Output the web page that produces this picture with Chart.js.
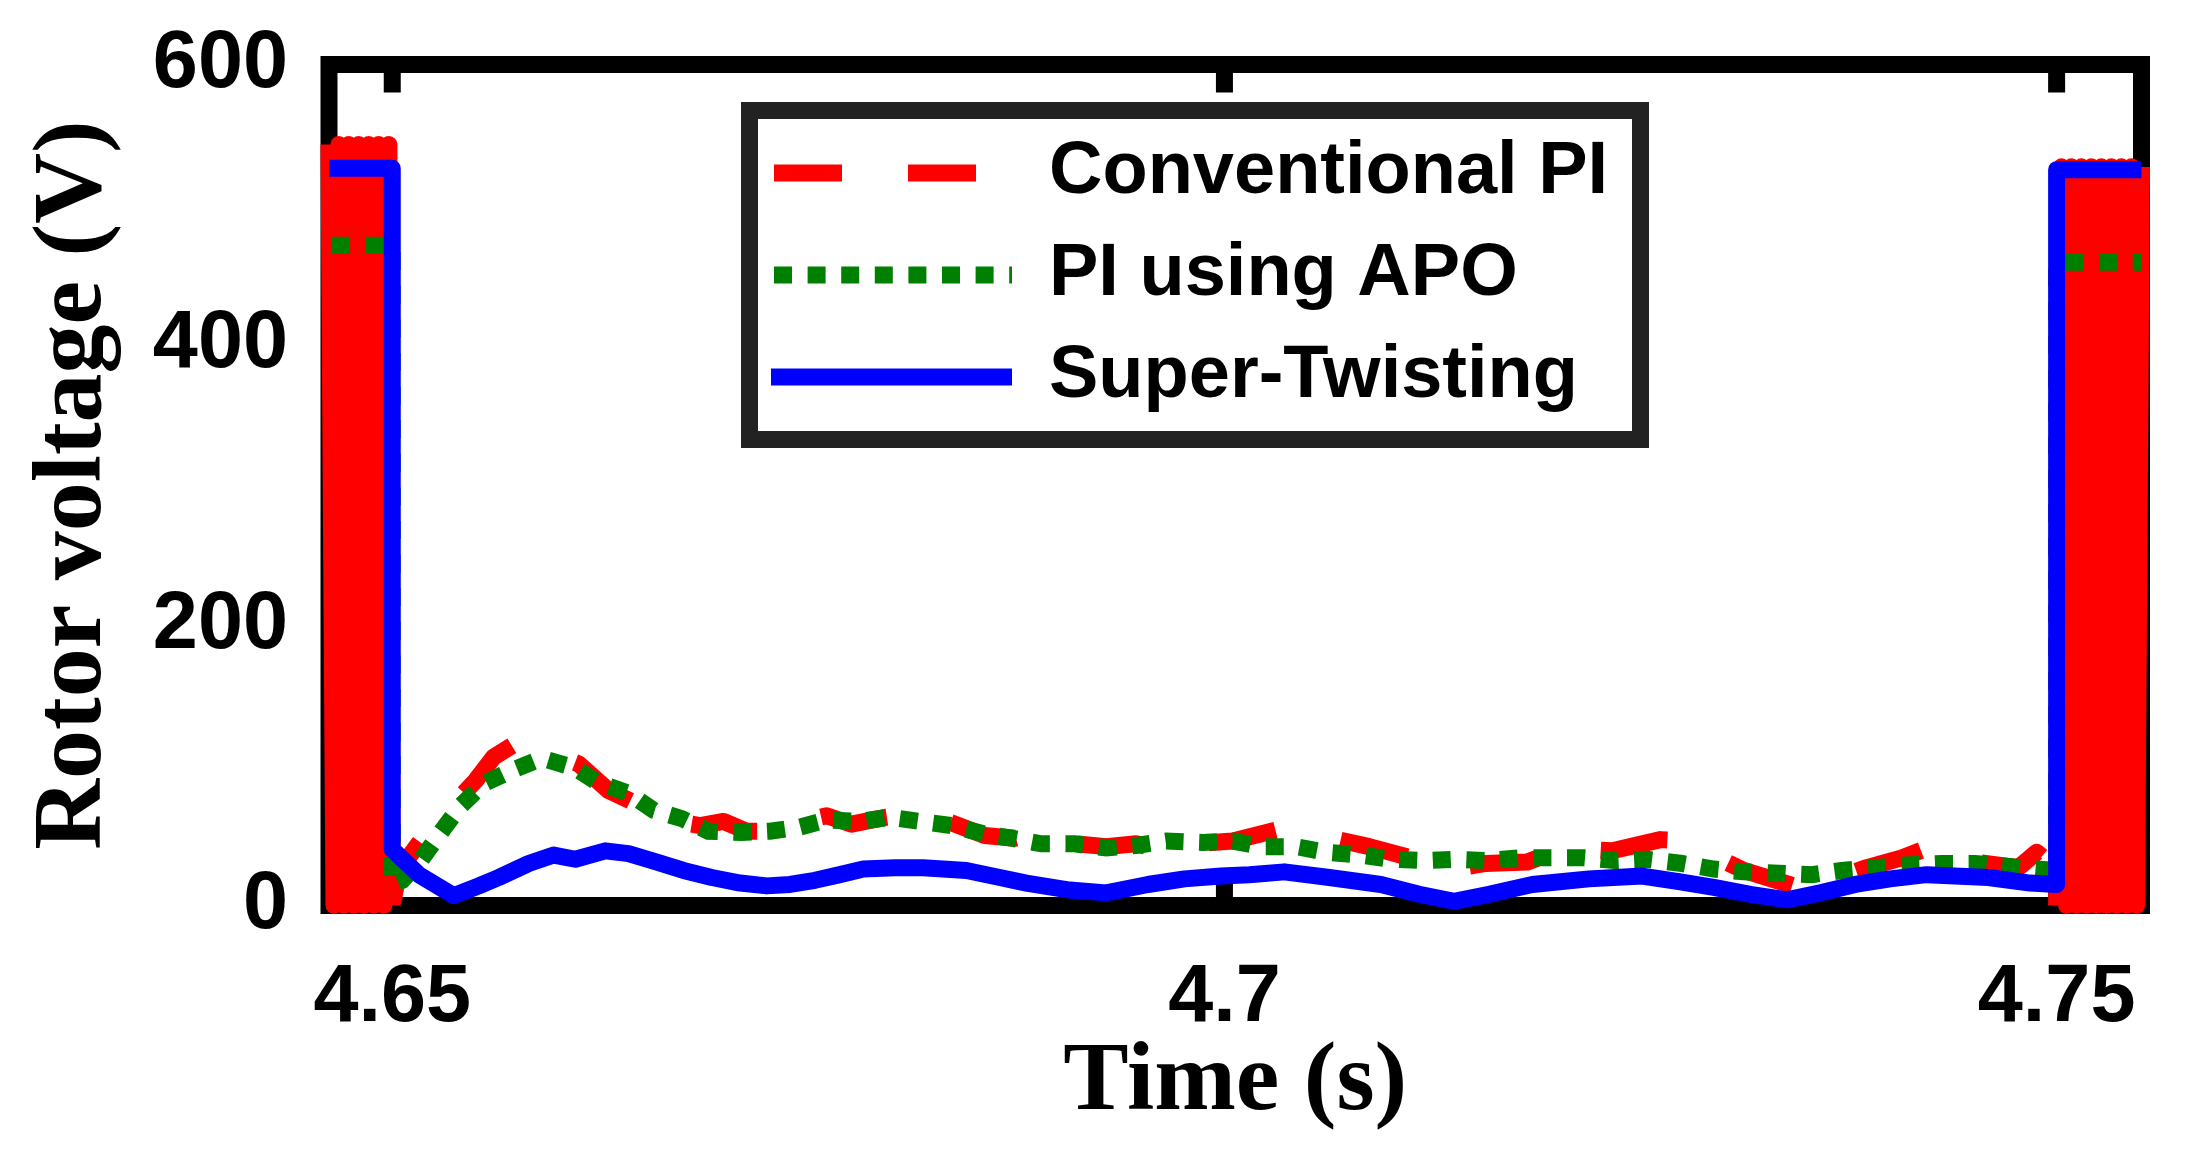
<!DOCTYPE html>
<html lang="en">
<head>
  <meta charset="UTF-8">
  <title>Rotor voltage</title>
  <style>
    html, body { margin: 0; padding: 0; background: #fff; }
    canvas { display: block; }
  </style>
  <script src="https://cdn.jsdelivr.net/npm/chart.js"></script>
</head>
<body>
  <canvas id="rotorChart" width="2191" height="1152"></canvas>

  <script>
    // Series names (legend order)
    const seriesNames = ['Conventional PI', 'PI using APO', 'Super-Twisting'];

    // Conventional PI: switching block, then the slow curve, then switching again
    const piTime = [
      4.6462, 4.6465, 4.6468, 4.6471, 4.6474, 4.6477, 4.6480, 4.6483, 4.6486, 4.6489, 4.6492, 4.6495, 4.6498, 4.6500,
      4.6504, 4.6517, 4.6535, 4.6550, 4.6561, 4.6572, 4.6588, 4.6612, 4.6630, 4.6655, 4.6670, 4.6685, 4.6699,
      4.6713, 4.6728, 4.6746, 4.6761, 4.6776, 4.6797, 4.6819, 4.6838, 4.6856, 4.6874, 4.6892, 4.6910, 4.6929,
      4.6947, 4.6969, 4.6983, 4.7005, 4.7032, 4.7057, 4.7087, 4.7109, 4.7131, 4.7157, 4.7182, 4.7204, 4.7233,
      4.7262, 4.7276, 4.7291, 4.7312, 4.7342, 4.7364, 4.7386, 4.7407, 4.7429, 4.7451, 4.7477, 4.7488, 4.7496,
      4.7500, 4.7503, 4.7506, 4.7509, 4.7512, 4.7515, 4.7518, 4.7521, 4.7524, 4.7527, 4.7530, 4.7533, 4.7536,
      4.7539, 4.7542, 4.7545, 4.7548, 4.7551
    ];
    const piVolt = [
      543, 0, 543, 0, 543, 0, 543, 0, 543, 0, 543, 0, 543, 0,
      25, 46, 70, 89, 106, 114, 112, 101, 82, 68, 60, 57, 60,
      53, 53, 60, 64, 58, 63, 67, 58, 50, 48, 54, 44, 42,
      44, 38, 44, 46, 54, 50, 42, 35, 25, 30, 31, 41, 39,
      47, 46, 37, 25, 14, 18, 27, 34, 44, 31, 27, 38, 30,
      0, 527, 0, 527, 0, 527, 0, 527, 0, 527, 0, 527, 0,
      527, 0, 527, 0, 527
    ];

    // PI using APO
    const apoTime = [
      4.6462, 4.6500, 4.6500, 4.6506, 4.6517, 4.6529, 4.6541, 4.6555, 4.6573, 4.6590, 4.6610, 4.6623, 4.6642,
      4.6657, 4.6674, 4.6690, 4.6710, 4.6727, 4.6745, 4.6761, 4.6781, 4.6799, 4.6817, 4.6836, 4.6856, 4.6872,
      4.6890, 4.6910, 4.6929, 4.6948, 4.6965, 4.6987, 4.7005, 4.7023, 4.7043, 4.7061, 4.7082, 4.7100, 4.7120,
      4.7138, 4.7158, 4.7178, 4.7197, 4.7216, 4.7236, 4.7254, 4.7275, 4.7294, 4.7312, 4.7333, 4.7353, 4.7371,
      4.7391, 4.7411, 4.7431, 4.7451, 4.7469, 4.7488, 4.7500, 4.7500, 4.7551
    ];
    const apoVolt = [
      471, 471, 15, 18, 32, 52, 71, 87, 97, 105, 98, 88, 80,
      68, 62, 53, 52, 53, 56, 61, 60, 63, 60, 57, 51, 48,
      44, 44, 41, 43, 46, 45, 46, 42, 42, 38, 36, 33, 32,
      33, 32, 34, 34, 34, 32, 33, 30, 26, 24, 23, 22, 25,
      27, 29, 30, 30, 28, 26, 25, 459, 459
    ];

    // Super-Twisting
    const stTime = [
      4.6462, 4.6500, 4.6500, 4.6516, 4.6537, 4.6552, 4.6564, 4.6582, 4.6597, 4.6610, 4.6628, 4.6642, 4.6659,
      4.6675, 4.6692, 4.6709, 4.6725, 4.6739, 4.6754, 4.6769, 4.6783, 4.6802, 4.6819, 4.6845, 4.6865, 4.6881,
      4.6907, 4.6929, 4.6954, 4.6976, 4.6998, 4.7015, 4.7036, 4.7063, 4.7094, 4.7117, 4.7138, 4.7159, 4.7185,
      4.7219, 4.7251, 4.7273, 4.7294, 4.7316, 4.7338, 4.7358, 4.7379, 4.7400, 4.7422, 4.7459, 4.7484, 4.7500,
      4.7500, 4.7551
    ];
    const stVolt = [
      526, 526, 40, 22, 7, 14, 20, 30, 36, 33, 39, 37, 31,
      25, 20, 16, 14, 15, 18, 22, 26, 27, 27, 25, 20, 16,
      11, 9, 15, 19, 21, 22, 24, 20, 15, 8, 3, 8, 15,
      19, 21, 17, 13, 8, 4, 9, 15, 19, 22, 20, 16, 15,
      525, 525
    ];

    // Axes
    const xRange = [4.6462, 4.7551];
    const xTickValues = [4.65, 4.7, 4.75];
    const xTickLabels = ['4.65', '4.7', '4.75'];
    const yRange = [0, 600];
    const yTickValues = [0, 200, 400, 600];
    const yTickLabels = ['0', '200', '400', '600'];

    // Time window edges of the PWM switching (red is drawn solid there)
    const switchOff = 4.65;
    const switchOn = 4.75;

    function zip(ts, vs) {
      return ts.map((t, i) => ({ x: t, y: vs[i] }));
    }

    const tickFont = { family: 'Liberation Sans', size: 81, weight: 'bold' };
    const titleFont = { family: 'Liberation Serif', size: 98, weight: 'bold' };

    // keep tick labels from pushing the plot area around
    function noOverhang(s) {
      s.paddingTop = 0; s.paddingBottom = 0;
      s.paddingLeft = 0; s.paddingRight = 0;
    }

    // legend frame (outer edges)
    const legendBox = { left: 741, top: 102, right: 1649, bottom: 448, edge: 17 };

    // Frame with inward ticks, drawn under the curves
    const axesBox = {
      id: 'axesBox',
      beforeDraw(chart) {
        // put the legend in the upper middle of the plot
        const lg = chart.legend;
        lg.left = 743; lg.right = legendBox.right;
        lg.top = 108; lg.bottom = legendBox.bottom;
        lg.width = lg.right - lg.left;
        lg.height = lg.bottom - lg.top;
      },
      beforeDatasetsDraw(chart) {
        const { ctx, chartArea: a, scales: { x, y } } = chart;
        ctx.save();
        ctx.strokeStyle = '#000';
        ctx.lineWidth = 17;
        ctx.strokeRect(a.left, a.top, a.right - a.left, a.bottom - a.top);
        ctx.beginPath();
        xTickValues.forEach(v => {
          const px = x.getPixelForValue(v);
          ctx.moveTo(px, a.top); ctx.lineTo(px, a.top + 28);
          ctx.moveTo(px, a.bottom); ctx.lineTo(px, a.bottom - 28);
        });
        yTickValues.forEach(v => {
          const py = y.getPixelForValue(v);
          ctx.moveTo(a.left, py); ctx.lineTo(a.left + 28, py);
          ctx.moveTo(a.right, py); ctx.lineTo(a.right - 28, py);
        });
        ctx.stroke();
        ctx.restore();
      },
      afterDraw(chart) {
        const b = legendBox, h = b.edge / 2;
        const ctx = chart.ctx;
        ctx.save();
        ctx.strokeStyle = '#222222';
        ctx.lineWidth = b.edge;
        ctx.strokeRect(b.left + h, b.top + h, b.right - b.left - b.edge, b.bottom - b.top - b.edge);
        ctx.restore();
      }
    };

    const ctx = document.getElementById('rotorChart').getContext('2d');
    new Chart(ctx, {
      type: 'line',
      data: {
        datasets: [
          {
            label: seriesNames[0],
            data: zip(piTime, piVolt),
            borderColor: '#ff0000',
            backgroundColor: '#ff0000',
            borderWidth: 17,
            borderDash: [68, 66],
            borderDashOffset: 131,
            borderJoinStyle: 'round',
            order: 3,
            segment: {
              borderDash: c => (c.p1.parsed.x <= switchOff || c.p0.parsed.x >= switchOn) ? [] : undefined
            }
          },
          {
            label: seriesNames[1],
            data: zip(apoTime, apoVolt),
            borderColor: '#008000',
            backgroundColor: '#008000',
            borderWidth: 17,
            borderDash: [18, 15.6],
            borderDashOffset: 30.6,
            order: 2
          },
          {
            label: seriesNames[2],
            data: zip(stTime, stVolt),
            borderColor: '#0000ff',
            backgroundColor: '#0000ff',
            borderWidth: 17,
            borderJoinStyle: 'round',
            order: 1
          }
        ]
      },
      options: {
        responsive: false,
        devicePixelRatio: 1,
        animation: false,
        events: [],
        layout: { padding: { left: 0, top: 64.5, right: 49.5, bottom: 0 } },
        elements: {
          point: { radius: 0 },
          line: { tension: 0, fill: false }
        },
        datasets: { line: { clip: false } },
        scales: {
          x: {
            type: 'linear',
            min: xRange[0],
            max: xRange[1],
            afterBuildTicks: s => { s.ticks = xTickValues.map(v => ({ value: v })); },
            afterFit: s => { s.height = 246.5; noOverhang(s); },
            grid: { display: false, drawTicks: false },
            border: { display: false },
            ticks: {
              autoSkip: false,
              maxRotation: 0,
              padding: 45,
              color: '#000',
              font: tickFont,
              callback: (v, i) => xTickLabels[i]
            },
            title: {
              display: true,
              text: 'Time (s)',
              color: '#000',
              font: titleFont,
              padding: { top: 0, bottom: 10 }
            }
          },
          y: {
            type: 'linear',
            min: yRange[0],
            max: yRange[1],
            afterBuildTicks: s => { s.ticks = yTickValues.map(v => ({ value: v })); },
            afterFit: s => { s.width = 329; noOverhang(s); },
            grid: { display: false, drawTicks: false },
            border: { display: false },
            ticks: {
              padding: 41,
              color: '#000',
              font: tickFont,
              callback: (v, i) => yTickLabels[i]
            },
            title: {
              display: true,
              text: 'Rotor voltage (V)',
              color: '#000',
              font: titleFont,
              padding: { top: 16, bottom: 0 }
            }
          }
        },
        plugins: {
          tooltip: { enabled: false },
          legend: {
            position: 'chartArea',
            align: 'start',
            labels: {
              usePointStyle: true,
              pointStyle: 'line',
              pointStyleWidth: 241,
              boxHeight: 20,
              padding: 28,
              color: '#000',
              font: { family: 'Liberation Sans', size: 74, weight: 'bold' },
              sort: (a, b) => a.datasetIndex - b.datasetIndex,
              // point-style items lose the dataset dash, so copy it back
              generateLabels: chart => Chart.defaults.plugins.legend.labels.generateLabels(chart).map(item => {
                const ds = chart.data.datasets[item.datasetIndex];
                item.lineDash = ds.borderDash || [];
                item.lineDashOffset = ds.borderDashOffset || 0;
                item.lineWidth = ds.borderWidth;
                item.lineCap = 'butt';
                return item;
              })
            }
          }
        }
      },
      plugins: [axesBox]
    });
  </script>
</body>
</html>
